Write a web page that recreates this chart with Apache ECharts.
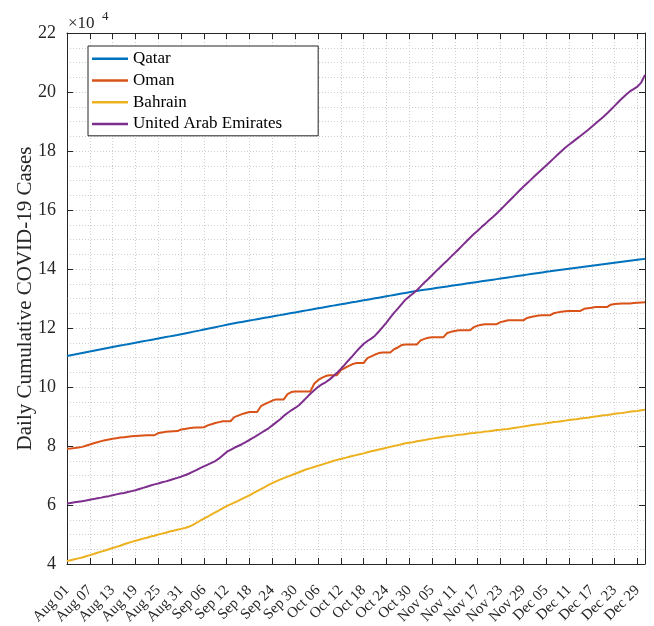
<!DOCTYPE html>
<html>
<head>
<meta charset="utf-8">
<script src="https://cdn.jsdelivr.net/npm/echarts@6/dist/echarts.min.js"></script>
<style>
  html, body { margin: 0; padding: 0; background: #fff; }
  #chart { width: 654px; height: 626px; }
</style>
</head>
<body>
<div id="chart"></div>
<script>
// Daily cumulative COVID-19 cases, 1 Aug - 31 Dec 2020, in units of 10^4 cases.
const months = ['Aug', 'Sep', 'Oct', 'Nov', 'Dec'];
const monthDays = [31, 30, 31, 30, 31];

const qatar = [
  11.05, 11.076, 11.102, 11.128, 11.154, 11.18, 11.206, 11.231, 11.256, 11.281,
  11.306, 11.331, 11.356, 11.38, 11.404, 11.428, 11.452, 11.476, 11.50, 11.524,
  11.548, 11.572, 11.596, 11.62, 11.644, 11.668, 11.692, 11.716, 11.74, 11.764,
  11.79, 11.816, 11.842, 11.868, 11.894, 11.92, 11.947, 11.974, 12.001, 12.028,
  12.055, 12.081, 12.107, 12.133, 12.158, 12.183, 12.206, 12.229, 12.252, 12.275,
  12.298, 12.321, 12.344, 12.367, 12.39, 12.413, 12.436, 12.459, 12.482, 12.505,
  12.528, 12.551, 12.574, 12.597, 12.62, 12.643, 12.666, 12.689, 12.712, 12.735,
  12.758, 12.78, 12.802, 12.825, 12.848, 12.87, 12.892, 12.915, 12.938, 12.96,
  12.982, 13.005, 13.028, 13.051, 13.074, 13.097, 13.12, 13.143, 13.166, 13.189,
  13.212, 13.235, 13.258, 13.277, 13.296, 13.315, 13.334, 13.353, 13.372, 13.391,
  13.41, 13.429, 13.448, 13.467, 13.486, 13.505, 13.524, 13.543, 13.562, 13.581,
  13.60, 13.619, 13.638, 13.657, 13.676, 13.695, 13.714, 13.733, 13.752, 13.771,
  13.79, 13.809, 13.828, 13.847, 13.866, 13.885, 13.904, 13.92, 13.937, 13.954,
  13.971, 13.988, 14.005, 14.022, 14.039, 14.056, 14.073, 14.09, 14.107, 14.124,
  14.141, 14.158, 14.175, 14.192, 14.209, 14.226, 14.243, 14.26, 14.277, 14.294,
  14.311, 14.327, 14.343
];

const oman = [
  7.91, 7.915, 7.93, 7.95, 7.97, 8.01, 8.05, 8.095, 8.13, 8.165,
  8.195, 8.22, 8.245, 8.265, 8.285, 8.30, 8.315, 8.33, 8.34, 8.35,
  8.36, 8.362, 8.362, 8.364, 8.44, 8.46, 8.48, 8.495, 8.50, 8.505,
  8.56, 8.58, 8.60, 8.62, 8.63, 8.63, 8.635, 8.70, 8.74, 8.78,
  8.81, 8.84, 8.84, 8.84, 8.98, 9.03, 9.08, 9.12, 9.15, 9.15,
  9.15, 9.35, 9.42, 9.48, 9.54, 9.58, 9.58, 9.58, 9.76, 9.83,
  9.85, 9.85, 9.85, 9.85, 9.85, 10.11, 10.23, 10.31, 10.37, 10.40,
  10.40, 10.40, 10.57, 10.64, 10.71, 10.77, 10.81, 10.81, 10.81, 10.98,
  11.04, 11.10, 11.15, 11.17, 11.17, 11.17, 11.28, 11.34, 11.42, 11.44,
  11.44, 11.44, 11.44, 11.58, 11.63, 11.67, 11.69, 11.69, 11.69, 11.69,
  11.83, 11.87, 11.90, 11.92, 11.92, 11.92, 11.92, 12.03, 12.08, 12.11,
  12.13, 12.13, 12.13, 12.13, 12.20, 12.23, 12.26, 12.26, 12.26, 12.26,
  12.26, 12.34, 12.37, 12.40, 12.42, 12.43, 12.43, 12.43, 12.50, 12.53,
  12.55, 12.57, 12.58, 12.58, 12.58, 12.58, 12.65, 12.67, 12.69, 12.71,
  12.71, 12.71, 12.71, 12.79, 12.81, 12.82, 12.83, 12.83, 12.83, 12.85,
  12.86, 12.865, 12.87
];

const bahrain = [
  4.10, 4.13, 4.16, 4.19, 4.22, 4.26, 4.30, 4.34, 4.38, 4.42,
  4.46, 4.50, 4.54, 4.58, 4.62, 4.67, 4.71, 4.75, 4.79, 4.82,
  4.86, 4.89, 4.93, 4.96, 5.00, 5.03, 5.06, 5.10, 5.13, 5.16,
  5.19, 5.22, 5.26, 5.32, 5.39, 5.47, 5.54, 5.61, 5.68, 5.75,
  5.82, 5.89, 5.96, 6.02, 6.08, 6.14, 6.21, 6.27, 6.33, 6.40,
  6.47, 6.54, 6.61, 6.68, 6.74, 6.80, 6.86, 6.91, 6.96, 7.01,
  7.06, 7.11, 7.16, 7.21, 7.25, 7.29, 7.33, 7.37, 7.41, 7.45,
  7.49, 7.53, 7.56, 7.59, 7.63, 7.66, 7.69, 7.72, 7.75, 7.79,
  7.82, 7.85, 7.88, 7.91, 7.94, 7.97, 8.00, 8.03, 8.06, 8.09,
  8.11, 8.13, 8.16, 8.18, 8.20, 8.23, 8.25, 8.27, 8.29, 8.31,
  8.33, 8.34, 8.36, 8.38, 8.39, 8.41, 8.43, 8.44, 8.46, 8.47,
  8.49, 8.50, 8.52, 8.54, 8.55, 8.57, 8.58, 8.60, 8.62, 8.64,
  8.66, 8.68, 8.70, 8.72, 8.74, 8.75, 8.77, 8.79, 8.81, 8.82,
  8.84, 8.86, 8.88, 8.90, 8.91, 8.93, 8.95, 8.96, 8.98, 9.00,
  9.02, 9.04, 9.05, 9.07, 9.09, 9.11, 9.12, 9.14, 9.16, 9.18,
  9.19, 9.21, 9.23
];

const uae = [
  6.05, 6.07, 6.09, 6.11, 6.13, 6.15, 6.18, 6.20, 6.23, 6.25,
  6.28, 6.30, 6.33, 6.36, 6.39, 6.41, 6.44, 6.47, 6.50, 6.54,
  6.58, 6.62, 6.66, 6.70, 6.73, 6.77, 6.80, 6.84, 6.88, 6.92,
  6.96, 7.01, 7.06, 7.12, 7.18, 7.25, 7.31, 7.37, 7.43, 7.49,
  7.58, 7.69, 7.80, 7.87, 7.94, 8.00, 8.06, 8.13, 8.21, 8.28,
  8.36, 8.44, 8.52, 8.60, 8.70, 8.80, 8.90, 9.02, 9.12, 9.21,
  9.29, 9.38, 9.51, 9.64, 9.77, 9.89, 10.00, 10.09, 10.16, 10.25,
  10.36, 10.48, 10.61, 10.75, 10.90, 11.04, 11.19, 11.33, 11.46, 11.56,
  11.64, 11.74, 11.88, 12.03, 12.18, 12.35, 12.51, 12.66, 12.81, 12.96,
  13.07, 13.17, 13.28, 13.41, 13.54, 13.66, 13.79, 13.92, 14.04, 14.17,
  14.29, 14.42, 14.54, 14.67, 14.80, 14.93, 15.06, 15.19, 15.30, 15.42,
  15.53, 15.65, 15.76, 15.88, 16.01, 16.14, 16.27, 16.40, 16.53, 16.66,
  16.79, 16.91, 17.03, 17.15, 17.27, 17.39, 17.51, 17.63, 17.75, 17.87,
  17.99, 18.11, 18.21, 18.31, 18.41, 18.51, 18.61, 18.71, 18.82, 18.93,
  19.04, 19.15, 19.27, 19.40, 19.53, 19.66, 19.79, 19.91, 20.02, 20.10,
  20.18, 20.32, 20.58
];

const seriesNames = ['Qatar', 'Oman', 'Bahrain', 'United Arab Emirates'];
const seriesColors = ['#0072BD', '#D95319', '#EDB120', '#7E2F8E'];
const yTicks = { min: 4, max: 22, step: 2 };

// Day labels "Aug 01" ... "Dec 31"
const dates = [];
months.forEach((m, i) => {
  for (let d = 1; d <= monthDays[i]; d++) {
    dates.push(m + ' ' + (d < 10 ? '0' + d : String(d)));
  }
});

const FONT = "'Liberation Serif', 'Times New Roman', serif";
const INK = '#262626';
const GRID = '#cfcfcf';

const chart = echarts.init(document.getElementById('chart'), null, { renderer: 'canvas' });

const seriesData = [qatar, oman, bahrain, uae];

chart.setOption({
  animation: false,
  backgroundColor: '#ffffff',
  grid: { left: 67, right: 9, top: 33, bottom: 62, containLabel: false, outerBoundsMode: 'none' },
  legend: {
    orient: 'vertical',
    left: 88,
    top: 46,
    data: seriesNames,
    icon: 'rect',
    itemWidth: 36,
    itemHeight: 2.5,
    itemGap: 0,
    padding: [2, 36, 1, 4],
    backgroundColor: '#ffffff',
    borderColor: INK,
    borderWidth: 1,
    borderRadius: 0,
    textStyle: { fontFamily: FONT, fontSize: 17, color: '#000', lineHeight: 21.7 }
  },
  graphic: [
    {
      type: 'text', left: 68, top: 15,
      style: { text: '×10', font: '17px ' + FONT, fill: INK }
    },
    {
      type: 'text', left: 102, top: 10,
      style: { text: '4', font: '13px ' + FONT, fill: INK }
    }
  ],
  xAxis: [
    {
      type: 'category',
      data: dates,
      boundaryGap: false,
      position: 'bottom',
      axisLine: { show: true, lineStyle: { color: INK, width: 1 } },
      axisTick: { show: true, inside: true, length: 6, interval: 5, lineStyle: { color: INK } },
      axisLabel: {
        interval: 5, rotate: 45, margin: 24,
        align: 'right', verticalAlign: 'middle',
        fontFamily: FONT, fontSize: 15, color: INK
      },
      splitLine: { show: true, interval: 5, lineStyle: { color: GRID, type: [1, 2], width: 1 } }
    },
    {
      type: 'category',
      data: dates,
      boundaryGap: false,
      position: 'top',
      axisLine: { show: true, lineStyle: { color: INK, width: 1 } },
      axisTick: { show: true, inside: true, length: 6, interval: 5, lineStyle: { color: INK } },
      axisLabel: { show: false },
      splitLine: { show: false }
    }
  ],
  yAxis: [
    {
      type: 'value',
      min: yTicks.min, max: yTicks.max, interval: yTicks.step,
      position: 'left',
      name: 'Daily Cumulative COVID-19 Cases',
      nameLocation: 'middle',
      nameGap: 31,
      nameMoveOverlap: false,
      nameTextStyle: { fontFamily: FONT, fontSize: 21, color: INK },
      axisLine: { show: true, lineStyle: { color: INK, width: 1 } },
      axisTick: { show: true, inside: true, length: 6, lineStyle: { color: INK } },
      axisLabel: { margin: 11, fontFamily: FONT, fontSize: 18, color: INK },
      splitLine: { show: true, lineStyle: { color: GRID, type: [1, 2], width: 1 } },
      minorTick: { show: false, splitNumber: 4 },
      minorSplitLine: { show: true, lineStyle: { color: GRID, type: [1, 2], width: 1 } }
    },
    {
      type: 'value',
      min: yTicks.min, max: yTicks.max, interval: yTicks.step,
      position: 'right',
      axisLine: { show: true, lineStyle: { color: INK, width: 1 } },
      axisTick: { show: true, inside: true, length: 6, lineStyle: { color: INK } },
      axisLabel: { show: false },
      splitLine: { show: false }
    }
  ],
  series: seriesNames.map((name, i) => ({
    name: name,
    type: 'line',
    xAxisIndex: 0,
    yAxisIndex: 0,
    data: seriesData[i],
    showSymbol: false,
    symbol: 'none',
    color: seriesColors[i],
    lineStyle: { color: seriesColors[i], width: 2 },
    emphasis: { disabled: true }
  }))
});
</script>
</body>
</html>
